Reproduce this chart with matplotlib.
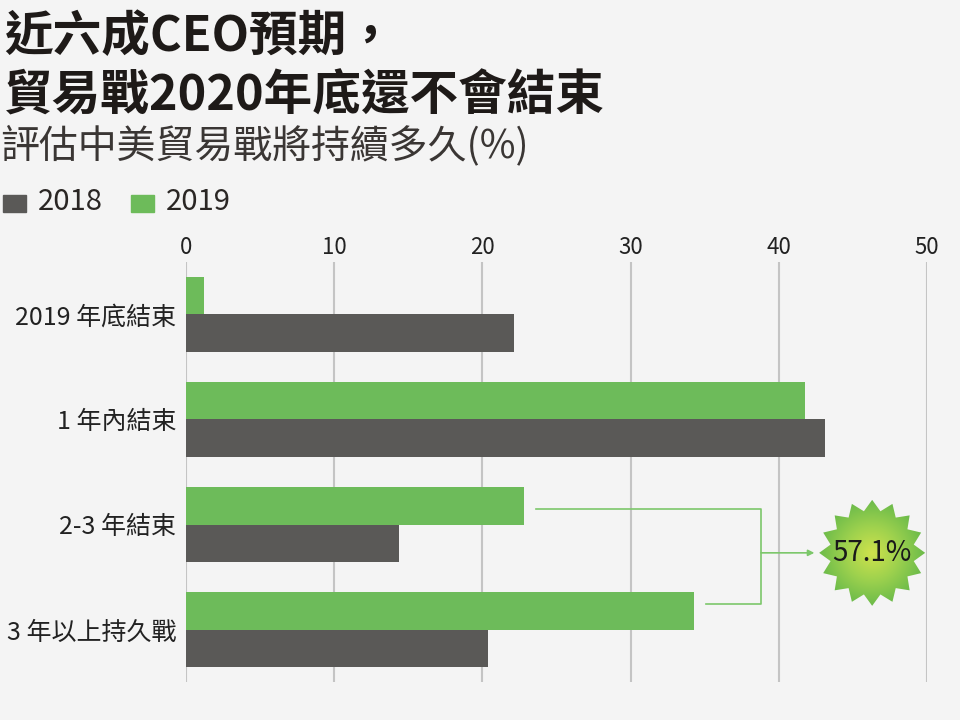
import numpy as np
import matplotlib.pyplot as plt
from matplotlib.patches import Polygon, Rectangle
from matplotlib.colors import LinearSegmentedColormap

plt.rcParams['font.family'] = ['Noto Sans CJK TC', 'DejaVu Sans']

# data (percent)
categories = ['2019 年底結束', '1 年內結束', '2-3 年結束', '3 年以上持久戰']
v2018 = [22.1, 43.1, 14.4, 20.4]
v2019 = [1.2, 41.8, 22.8, 34.3]
xticks = [0, 10, 20, 30, 40, 50]
series_names = ['2018', '2019']

bg = '#f4f4f4'
c2018 = '#5a5957'
c2019 = '#6dbb5a'
line_c = '#7cc76a'

fig = plt.figure(figsize=(9.6, 7.2), dpi=100, facecolor=bg)

# titles
fig.text(0.004, 1 - 51/720, '近六成CEO預期，', fontsize=35, fontweight='bold', color='#1e1a18', va='baseline')
fig.text(0.004, 1 - 111/720, '貿易戰2020年底還不會結束', fontsize=35, fontweight='bold', color='#1e1a18', va='baseline')
fig.text(0.0, 1 - 157/720, '評估中美貿易戰將持續多久(%)', fontsize=28, fontweight='light', color='#3a3634', va='baseline')

# legend
fig.patches.append(Rectangle((3/960, 1 - 212/720), 23/960, 17/720, transform=fig.transFigure, color=c2018))
fig.text(38/960, 1 - 210/720, series_names[0], fontsize=21, fontweight='light', color='#2a2624', va='baseline')
fig.patches.append(Rectangle((131/960, 1 - 212/720), 23/960, 17/720, transform=fig.transFigure, color=c2019))
fig.text(166/960, 1 - 210/720, series_names[1], fontsize=21, fontweight='light', color='#2a2624', va='baseline')

ax = fig.add_axes([186/960, 38/720, (927-186)/960, (682-262)/720])
ax.set_facecolor(bg)

y = np.arange(len(categories))
h = 0.357
ax.barh(y - h/2, v2019, height=h, color=c2019, zorder=2)
ax.barh(y + h/2, v2018, height=h, color=c2018, zorder=2)

ax.set_xlim(0, 50)
ax.set_ylim(3.5, -0.5)
ax.set_xticks(xticks)
ax.set_xticklabels([str(t) for t in xticks], fontweight='medium')
ax.xaxis.tick_top()
ax.tick_params(axis='x', length=0, pad=2, labelsize=16, labelcolor='#222')
ax.set_yticks(y)
ax.set_yticklabels(categories, fontweight='medium')
ax.tick_params(axis='y', length=0, pad=7, labelsize=18, labelcolor='#222')
ax.xaxis.grid(True, color='#c4c4c4', linewidth=1.5, zorder=0)
ax.set_axisbelow(True)
for s in ax.spines.values():
    s.set_visible(False)

# bracket for the last two groups of 2019
ya = 2 - h/2 + 0.03
yb = 3 - h/2 - 0.065
xv = 38.8
ax.plot([v2019[2] + 0.8, xv, xv, v2019[3] + 0.8], [ya, ya, yb, yb], color=line_c, lw=1.2, zorder=3)
ym = 2.27
ax.annotate('', xy=(42.4, ym), xytext=(xv, ym),
            arrowprops=dict(arrowstyle='-|>', color=line_c, lw=1.2, mutation_scale=9, shrinkA=0, shrinkB=0))

# starburst with radial gradient
cx, cy = 46.3, ym
rx, ry = 53/14.82, 53/105
n = 16
ang = np.pi/2 + np.arange(2*n) * np.pi/n
rad = np.where(np.arange(2*n) % 2 == 0, 1.0, 0.8)
pts = np.column_stack([cx + rx*rad*np.cos(ang), cy - ry*rad*np.sin(ang)])
star = Polygon(pts, closed=True, facecolor='none', edgecolor='none', zorder=4)
ax.add_patch(star)
gx, gy = np.meshgrid(np.linspace(-1, 1, 200), np.linspace(-1, 1, 200))
r = np.sqrt(gx**2 + gy**2)
cmap = LinearSegmentedColormap.from_list('burst', ['#cfe24c', '#9fd24e', '#6cbb4a'])
im = ax.imshow(r, cmap=cmap, vmin=0, vmax=1.0, extent=[cx-rx, cx+rx, cy+ry, cy-ry],
               aspect='auto', zorder=4, interpolation='bilinear')
im.set_clip_path(star)
total = v2019[2] + v2019[3]
ax.text(cx, cy, f'{total:.1f}%', fontsize=20, fontweight='medium', color='#1a1a1a',
        ha='center', va='center', zorder=5)

ax.set_xlim(0, 50)
ax.set_ylim(3.5, -0.5)

fig.savefig('out.png', dpi=100, facecolor=bg)
